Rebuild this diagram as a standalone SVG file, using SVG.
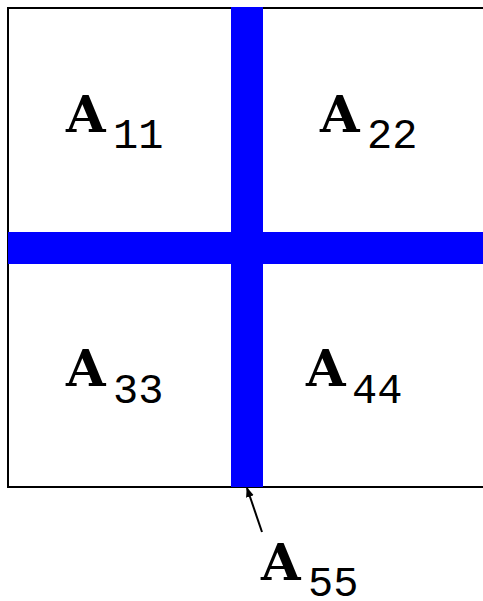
<svg xmlns="http://www.w3.org/2000/svg" width="483" height="601" viewBox="0 0 483 601">
<style>
.a{font-family:"DejaVu Serif",serif;font-weight:bold;font-size:51px;fill:#000}
.s{font-family:"Liberation Mono",monospace;font-size:42px;fill:#000}
.bar{fill:#0000ff}
</style>
<defs>
<marker id="ah" viewBox="0 0 10 10" refX="9" refY="5" markerWidth="10" markerHeight="10" markerUnits="userSpaceOnUse" orient="auto">
<path d="M0,1 L10,5 L0,9 Z" fill="#000"/>
</marker>
</defs>
<rect x="0" y="0" width="483" height="601" fill="#fff"/>
<g id="frame">
<path d="M484,8 H8 V487 H484" fill="none" stroke="#000" stroke-width="2"/>
</g>
<g id="bars">
<rect class="bar" x="231" y="7" width="32" height="480"/>
<rect class="bar" x="8" y="232" width="475" height="32"/>
</g>
<g id="A11"><text class="a" x="66" y="132">A</text><text class="s" x="113" y="148">11</text></g>
<g id="A22"><text class="a" x="320" y="132">A</text><text class="s" x="367" y="148">22</text></g>
<g id="A33"><text class="a" x="66" y="386">A</text><text class="s" x="113" y="403">33</text></g>
<g id="A44"><text class="a" x="306" y="386">A</text><text class="s" x="352" y="403">44</text></g>
<g id="A55"><text class="a" x="261" y="580">A</text><text class="s" x="308" y="596">55</text></g>
<g id="connectors">
<line x1="262" y1="532" x2="247" y2="488" stroke="#000" stroke-width="2" marker-end="url(#ah)"/>
</g>
</svg>
